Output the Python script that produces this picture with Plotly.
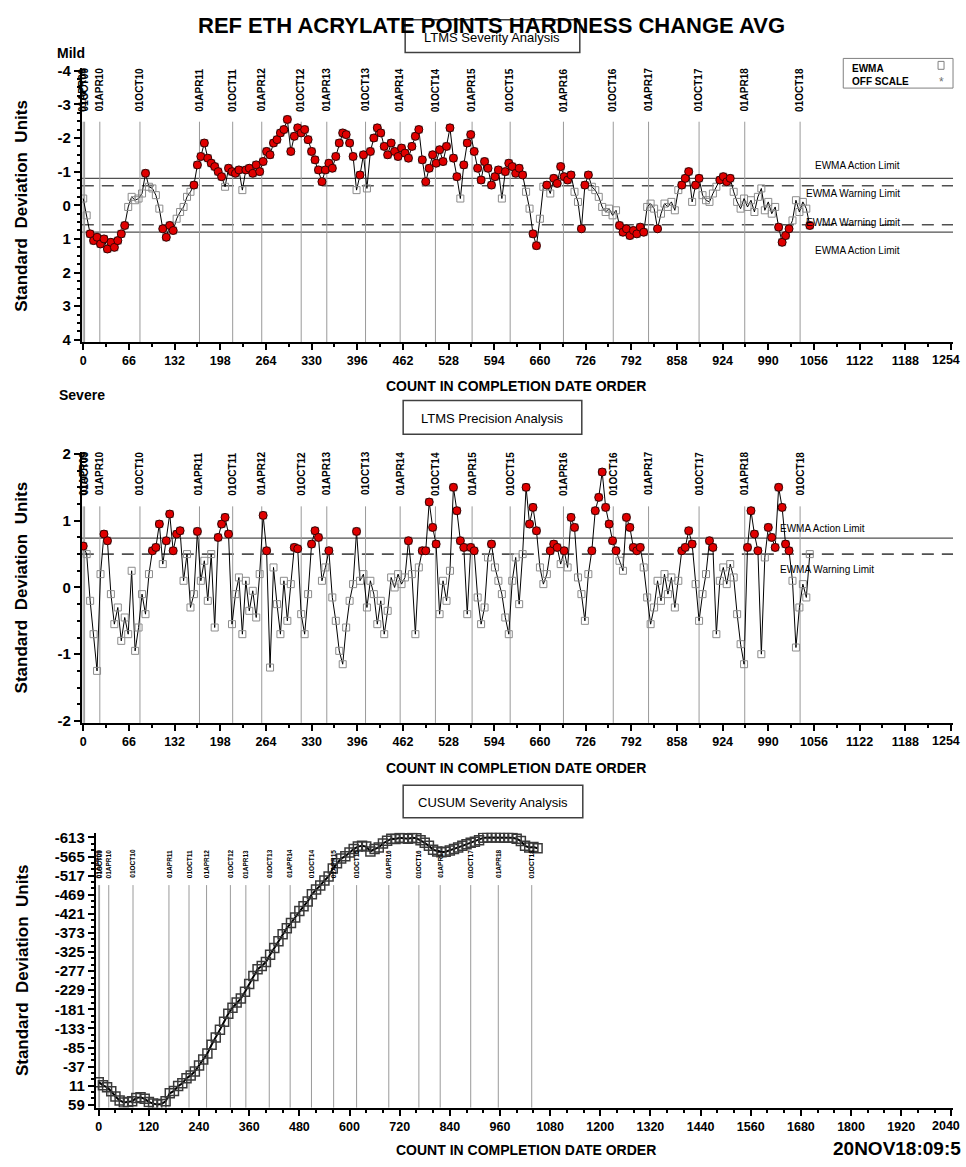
import plotly.graph_objects as go

W, H = 966, 1167

# ---------------- data ----------------
# LTMS severity EWMA (standard deviation units), sampled along completion count
sev_count = list(range(0, 1051, 5))
sev_ewma = [
    -0.20, 0.30, 0.85, 1.05, 0.95, 1.15, 1.00, 1.30, 1.10, 1.25,
    1.05, 0.85, 0.60, 0.05, -0.25, -0.15, -0.20, -0.35, -0.95, -0.55,
    -0.50, -0.30, 0.10, 0.70, 0.95, 0.60, 0.75, 0.40, 0.20, 0.05,
    -0.25, -0.40, -0.60, -1.20, -1.45, -1.85, -1.40, -1.25, -1.15, -1.00,
    -0.85, -0.55, -1.10, -1.00, -0.95, -1.05, -0.45, -1.05, -1.10, -0.95,
    -1.20, -1.00, -1.30, -1.60, -1.50, -1.85, -1.95, -2.15, -2.25, -2.55,
    -1.60, -2.05, -2.30, -2.15, -2.25, -1.95, -1.60, -1.35, -1.05, -0.70,
    -1.05, -1.25, -1.10, -1.45, -1.85, -2.15, -2.10, -1.85, -1.45, -0.45,
    -0.90, -1.50, -0.50, -1.60, -2.00, -2.30, -2.15, -1.75, -1.50, -1.85,
    -1.60, -1.45, -1.70, -1.55, -1.40, -1.75, -2.05, -2.25, -1.35, -0.70,
    -1.10, -1.50, -1.25, -1.65, -1.30, -1.75, -2.30, -1.40, -0.85, -0.20,
    -1.20, -1.85, -2.10, -1.60, -1.10, -0.75, -1.30, -1.10, -0.60, -0.85,
    -1.05, -0.20, -1.00, -1.25, -1.15, -0.95, -1.10, -0.90, -0.40, 0.10,
    0.85, 1.20, 0.40, -0.55, -0.60, -0.35, -0.80, -0.65, -1.15, -0.85,
    -0.75, -0.90, -0.40, -0.10, 0.70, -0.60, -0.90, -0.55, -0.45, -0.25,
    0.05, 0.20, 0.10, 0.30, 0.15, 0.60, 0.80, 0.70, 0.90, 0.75,
    0.85, 0.65, 0.80, 0.05, -0.05, 0.10, 0.70, 0.25, -0.05, 0.05,
    -0.10, 0.15, -0.45, -0.60, -0.80, -1.00, -0.10, -0.60, -0.80, -0.30,
    -0.15, -0.10, -0.35, -0.55, -0.75, -0.85, -0.70, -0.80, -0.40, -0.10,
    0.10, -0.20, 0.05, -0.15, 0.20, -0.25, -0.50, 0.15, -0.10, 0.25,
    0.05, 0.65, 1.10, 0.90, 0.70, 0.45, -0.15, 0.20, -0.10, 0.10,
    0.60,
]

# LTMS precision EWMA
prec_count = list(range(0, 1051, 5))
prec_ewma = [
    0.62, 0.50, -0.20, -0.70, -1.25, 0.20, 0.80, 0.70, -0.10, -0.55,
    -0.30, -0.80, -0.45, -0.70, 0.25, -0.95, -0.60, -0.10, -0.40, 0.20,
    0.55, 0.60, 0.95, 0.35, 0.70, 1.10, 0.55, 0.80, 0.85, 0.10,
    0.50, -0.30, -0.10, 0.84, 0.10, 0.40, -0.20, 0.50, -0.60, 0.75,
    0.95, 1.05, 0.80, -0.55, -0.10, 0.15, -0.70, 0.10, -0.35, -0.05,
    -0.45, 0.20, 1.08, 0.55, -1.20, 0.30, -0.25, -0.70, 0.10, -0.50,
    0.05, 0.60, 0.58, -0.40, -0.70, -0.10, 0.65, 0.85, 0.75, 0.10,
    0.30, 0.55, -0.15, -0.50, -0.95, -1.15, -0.60, -0.20, 0.05, 0.84,
    0.10, 0.20, -0.30, 0.10, -0.10, -0.55, -0.20, -0.70, -0.35, 0.15,
    0.00, 0.20, 0.05, 0.15, 0.70, 0.20, -0.70, 0.30, 0.55, 0.55,
    1.28, 0.90, 0.65, -0.40, 0.10, -0.20, 0.25, 1.50, 1.15, 0.70,
    0.60, -0.40, 0.60, 0.55, -0.15, -0.55, -0.30, 0.45, 0.65, 0.30,
    0.10, -0.10, -0.45, -0.70, 0.10, 0.45, -0.25, 0.50, 1.50, 0.95,
    1.20, 0.85, 0.30, 0.05, 0.20, 0.55, 0.65, 0.60, 0.35, 0.55,
    0.30, 1.05, 0.90, 0.15, -0.10, -0.50, 0.20, 0.55, 1.15, 1.35,
    1.73, 1.20, 0.95, 0.70, 0.55, 0.40, 0.25, 1.05, 0.90, 0.60,
    0.55, 0.60, 0.30, -0.15, -0.55, -0.30, 0.10, -0.20, 0.20, -0.10,
    0.15, -0.30, 0.10, 0.55, 0.60, 0.85, 0.65, 0.05, -0.50, -0.10,
    0.20, 0.70, 0.60, -0.70, 0.10, 0.30, 0.05, 0.35, 0.15, -0.40,
    -0.85, -1.15, 0.60, 1.15, 0.80, 0.55, -1.00, 0.45, 0.90, 0.75,
    0.60, 1.50, 1.20, 0.65, 0.55, 0.10, -0.90, -0.30, 0.05, -0.15,
    0.50,
]

# CUSUM severity
cusum_count = list(range(0, 1051, 10))
cusum_value = [
    2, 10, 15, 25, 38, 48, 53, 52, 50, 42,
    40, 44, 52, 56, 58, 57, 50, 30, 24, 12,
    5, -8, -15, -25, -40, -55, -70, -92, -110, -130,
    -150, -170, -185, -198, -208, -225, -245, -265, -282, -290,
    -300, -318, -335, -352, -370, -385, -398, -412, -428, -440,
    -452, -470, -482, -492, -505, -515, -535, -548, -560, -566,
    -575, -584, -590, -592, -590, -578, -584, -588, -598, -605,
    -610, -609, -612, -611, -610, -612, -611, -606, -600, -592,
    -582, -578, -576, -577, -580, -584, -588, -592, -596, -600,
    -602, -606, -612, -613, -613, -613, -613, -612, -613, -612,
    -610, -604, -592, -588, -589, -586,
]

# calendar markers (count at which each date occurs)
date_labels = ["01APR09", "01OCT09", "01APR10", "01OCT10", "01APR11", "01OCT11",
               "01APR12", "01OCT12", "01APR13", "01OCT13", "01APR14", "01OCT14",
               "01APR15", "01OCT15", "01APR16", "01OCT16", "01APR17", "01OCT17",
               "01APR18", "01OCT18"]
date_counts = [0, 2, 24, 82, 168, 216, 258, 315, 352, 408, 458, 509,
               562, 617, 694, 766, 817, 890, 956, 1036]

sev_warning, sev_action = 0.58, 0.80
prec_warning, prec_action = 0.50, 0.74

sev_xticks = list(range(0, 1255, 66))
sev_yticks = [-4, -3, -2, -1, 0, 1, 2, 3, 4]
prec_yticks = [-2, -1, 0, 1, 2]
cusum_xticks = list(range(0, 2041, 120))
cusum_yticks = [-613, -565, -517, -469, -421, -373, -325, -277, -229, -181,
                -133, -85, -37, 11, 59]

# ---------------- helpers ----------------
FONT = "Liberation Sans, Arial, sans-serif"


def px(x):
    return x / W


def py(y):
    return 1 - y / H


def signed(vals):
    return [str(v) if v >= 0 else "-" + str(-v) for v in vals]


def all_but_last(vals):
    # the right-most label is set as an annotation so it stays inside the page
    return [str(v) for v in vals[:-1]] + [""]


fig = go.Figure()

GRAY_SQ = dict(symbol="square-open", size=7, color="#8c8c8c", line=dict(width=1))
RED_PT = dict(symbol="circle", size=8, color="#e00000", line=dict(color="#3a0000", width=1))


def ewma_traces(xs, ys, flagged, xa, ya):
    fig.add_trace(go.Scatter(x=xs, y=ys, mode="lines+markers", xaxis=xa, yaxis=ya,
                             line=dict(color="black", width=1), marker=GRAY_SQ,
                             showlegend=False, hoverinfo="x+y"))
    fx = [x for x, y in zip(xs, ys) if flagged(y)]
    fy = [y for y in ys if flagged(y)]
    fig.add_trace(go.Scatter(x=fx, y=fy, mode="markers", xaxis=xa, yaxis=ya,
                             marker=RED_PT, showlegend=False, hoverinfo="x+y"))


ewma_traces(sev_count, sev_ewma, lambda v: abs(v) > sev_warning, "x", "y")
ewma_traces(prec_count, prec_ewma, lambda v: v > prec_warning, "x2", "y2")
fig.add_trace(go.Scatter(x=cusum_count, y=cusum_value, mode="lines+markers",
                         xaxis="x3", yaxis="y3",
                         line=dict(color="black", width=2),
                         marker=dict(symbol="square-open", size=9, color="#3a3a3a",
                                     line=dict(width=1.5)),
                         showlegend=False, hoverinfo="x+y"))

# ---------------- axes ----------------
xtickfont = dict(family=FONT, size=12.5, color="black", weight="bold")
ytickfont = dict(family=FONT, size=15, color="black", weight="bold")
common_x = dict(showline=True, linecolor="black", linewidth=2, ticks="outside",
                ticklen=6, tickwidth=2, tickcolor="black", showgrid=False,
                zeroline=False, tickfont=xtickfont)
common_y = dict(showline=True, linecolor="black", linewidth=2, ticks="outside",
                ticklen=6, tickwidth=2, tickcolor="black", showgrid=False,
                zeroline=False, tickfont=ytickfont)

dom_top = [py(339), py(62)]
dom_mid = [py(724), py(450)]
dom_bot = [py(1113), py(835)]

fig.update_layout(
    xaxis=dict(common_x, domain=[px(80), px(953)], range=[-2, 1257], anchor="y",
               tickmode="array", tickvals=sev_xticks, ticktext=all_but_last(sev_xticks),
               minor=dict(ticks="outside", ticklen=3, tickcolor="black", dtick=33, tick0=0)),
    yaxis=dict(common_y, domain=dom_top, range=[4.07, -4.07], anchor="x",
               tickmode="array", tickvals=sev_yticks, ticktext=signed(sev_yticks),
               minor=dict(ticks="outside", ticklen=3, tickcolor="black", dtick=0.25, tick0=0)),
    xaxis2=dict(common_x, domain=[px(80), px(953)], range=[-2, 1257], anchor="y2",
                tickmode="array", tickvals=sev_xticks, ticktext=all_but_last(sev_xticks),
                minor=dict(ticks="outside", ticklen=3, tickcolor="black", dtick=33, tick0=0)),
    yaxis2=dict(common_y, domain=dom_mid, range=[-2.03, 2.03], anchor="x2",
                tickmode="array", tickvals=prec_yticks, ticktext=signed(prec_yticks),
                minor=dict(ticks="outside", ticklen=3, tickcolor="black", dtick=0.25, tick0=0)),
    xaxis3=dict(common_x, domain=[px(94), px(953)], range=[-7, 2044], anchor="y3",
                tickmode="array", tickvals=cusum_xticks, ticktext=all_but_last(cusum_xticks),
                minor=dict(ticks="outside", ticklen=3, tickcolor="black", dtick=40, tick0=0)),
    yaxis3=dict(common_y, domain=dom_bot, range=[66, -625], anchor="x3",
                tickmode="array", tickvals=cusum_yticks, ticktext=signed(cusum_yticks),
                minor=dict(ticks="outside", ticklen=3, tickcolor="black", dtick=16, tick0=11)),
    width=W, height=H, autosize=False,
    margin=dict(l=0, r=0, t=0, b=0),
    paper_bgcolor="white", plot_bgcolor="white",
    showlegend=False,
)

shapes = []
annots = []

# right-most x tick labels
for lab, ya, ybase in [(sev_xticks[-1], "y domain", 339), (sev_xticks[-1], "y2 domain", 724),
                       (cusum_xticks[-1], "y3 domain", 1113)]:
    annots.append(dict(text=str(lab), x=px(962), xref="paper", y=py(ybase + 9), yref="paper",
                       xanchor="right", yanchor="top", showarrow=False,
                       font=xtickfont))

# limit lines
for v, style in [(-sev_action, "solid"), (sev_action, "solid"),
                 (-sev_warning, "dash"), (sev_warning, "dash")]:
    shapes.append(dict(type="line", xref="x domain", yref="y", x0=0, x1=1, y0=v, y1=v,
                       line=dict(color="#505050", width=1.2 if style == "solid" else 1.6,
                                 dash="solid" if style == "solid" else "12px,8px"),
                       layer="below"))
for v, style in [(prec_action, "solid"), (prec_warning, "dash")]:
    shapes.append(dict(type="line", xref="x2 domain", yref="y2", x0=0, x1=1, y0=v, y1=v,
                       line=dict(color="#505050", width=1.2 if style == "solid" else 1.6,
                                 dash="solid" if style == "solid" else "12px,8px"),
                       layer="below"))

# date reference lines and their labels
panels = [("x", 116, 339, 108, 10), ("x2", 505, 724, 496, 10), ("x3", 888, 1113, 883, 6.5)]
for xr, ytop, ybot, lab_bottom, fsize in panels:
    for lab, c in zip(date_labels, date_counts):
        shapes.append(dict(type="line", xref=xr, yref="paper", x0=c, x1=c,
                           y0=py(ybot), y1=py(ytop),
                           line=dict(color="#9a9a9a", width=1), layer="below"))
        annots.append(dict(text=lab, x=c, xref=xr, y=py(lab_bottom), yref="paper",
                           xanchor="center", yanchor="bottom", textangle=-90,
                           showarrow=False,
                           font=dict(family=FONT, size=fsize, color="black", weight="bold")))

# limit labels
lim_font = dict(family=FONT, size=10, color="black")
for txt, x0, y0 in [("EWMA Action Limit", 813, 160), ("EWMA Warning Limit", 804, 189),
                    ("EWMA Warning Limit", 804, 218), ("EWMA Action Limit", 813, 246),
                    ("EWMA Action Limit", 778, 527), ("EWMA Warning Limit", 778, 569)]:
    annots.append(dict(text=txt, x=px(x0), y=py(y0), xref="paper", yref="paper",
                       xanchor="left", yanchor="middle", showarrow=False, font=lim_font))

# section boxes
for txt, x0, x1, y0, y1 in [("LTMS Severity Analysis", 404, 579, 13, 46),
                            ("LTMS Precision Analysis", 402, 581, 398, 432),
                            ("CUSUM Severity Analysis", 402, 582, 787, 820)]:
    shapes.append(dict(type="rect", xref="paper", yref="paper",
                       x0=px(x0), x1=px(x1), y0=py(y1), y1=py(y0),
                       line=dict(color="#404040", width=1.5), fillcolor="white", layer="above"))
    annots.append(dict(text=txt, x=px((x0 + x1) / 2), y=py((y0 + y1) / 2 + 1),
                       xref="paper", yref="paper", xanchor="center", yanchor="middle",
                       showarrow=False,
                       font=dict(family=FONT, size=13, color="black")))

# legend box
shapes.append(dict(type="rect", xref="paper", yref="paper", x0=px(843), x1=px(953),
                   y0=py(82), y1=py(52), line=dict(color="#808080", width=1)))
shapes.append(dict(type="rect", xref="paper", yref="paper", x0=px(938), x1=px(944),
                   y0=py(63), y1=py(55), line=dict(color="#808080", width=1)))
annots.append(dict(text="EWMA", x=px(850), y=py(62), xref="paper", yref="paper",
                   xanchor="left", yanchor="middle", showarrow=False,
                   font=dict(family=FONT, size=10, color="black", weight="bold")))
annots.append(dict(text="OFF SCALE", x=px(850), y=py(75), xref="paper", yref="paper",
                   xanchor="left", yanchor="middle", showarrow=False,
                   font=dict(family=FONT, size=10, color="black", weight="bold")))
annots.append(dict(text="*", x=px(941), y=py(76), xref="paper", yref="paper",
                   xanchor="center", yanchor="middle", showarrow=False,
                   font=dict(family=FONT, size=12, color="#707070")))

# titles and axis titles
annots.append(dict(text="REF ETH ACRYLATE POINTS HARDNESS CHANGE AVG", x=px(491), y=py(19),
                   xref="paper", yref="paper", xanchor="center", yanchor="middle",
                   showarrow=False,
                   font=dict(family=FONT, size=22, color="black", weight="bold")))
annots.append(dict(text="Mild", x=px(53), y=py(47), xref="paper", yref="paper",
                   xanchor="left", yanchor="middle", showarrow=False,
                   font=dict(family=FONT, size=14, color="black", weight="bold")))
annots.append(dict(text="Severe", x=px(55), y=py(392), xref="paper", yref="paper",
                   xanchor="left", yanchor="middle", showarrow=False,
                   font=dict(family=FONT, size=14, color="black", weight="bold")))
for yc in (201, 587, 974):
    annots.append(dict(text="Standard  Deviation  Units",
                       x=px(20), y=py(yc), xref="paper", yref="paper",
                       xanchor="center", yanchor="middle", textangle=-90, showarrow=False,
                       font=dict(family=FONT, size=17, color="black", weight="bold")))
for xc, yc in ((515, 383), (515, 770), (525, 1156)):
    annots.append(dict(text="COUNT IN COMPLETION DATE ORDER", x=px(xc), y=py(yc),
                       xref="paper", yref="paper", xanchor="center", yanchor="middle",
                       showarrow=False,
                       font=dict(family=FONT, size=14, color="black", weight="bold")))
annots.append(dict(text="20NOV18:09:5", x=px(963), y=py(1154), xref="paper", yref="paper",
                   xanchor="right", yanchor="middle", showarrow=False,
                   font=dict(family=FONT, size=19, color="black", weight="bold")))

fig.update_layout(shapes=shapes, annotations=annots)
fig.write_html("out.html")
